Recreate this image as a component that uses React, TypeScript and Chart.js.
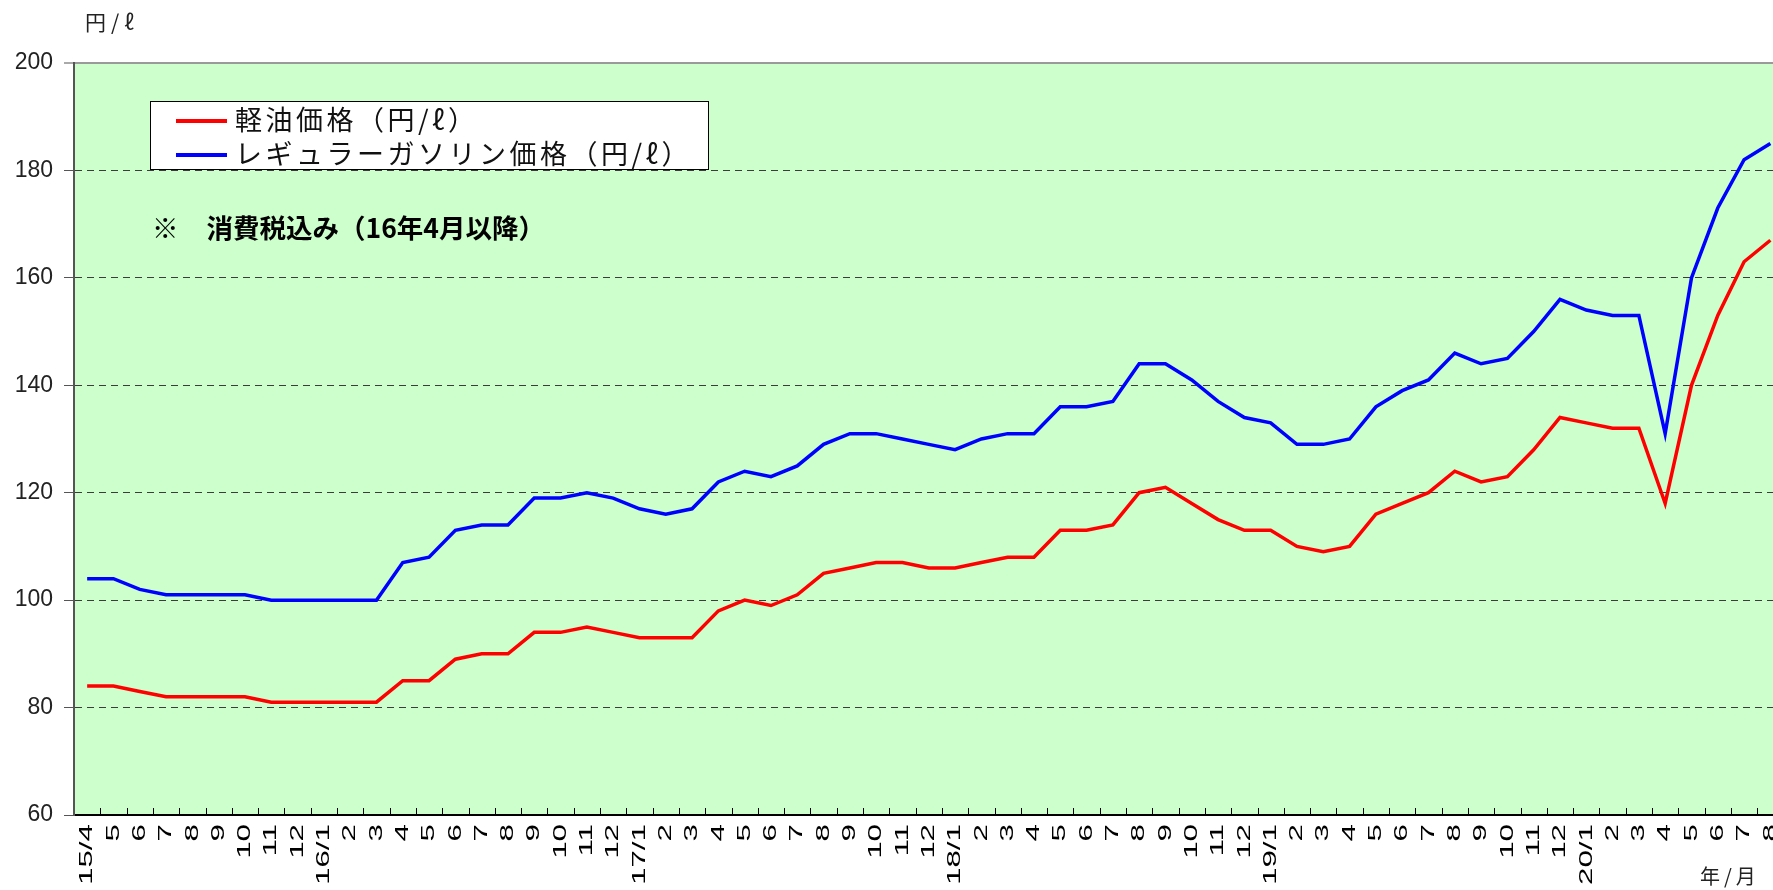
import React, { useEffect, useRef } from 'react';
import { Chart, registerables } from 'chart.js';

Chart.register(...registerables);

const xLabels: string[] = [
  '15/4', '5', '6', '7', '8', '9', '10', '11', '12',
  '16/1', '2', '3', '4', '5', '6', '7', '8', '9', '10', '11', '12',
  '17/1', '2', '3', '4', '5', '6', '7', '8', '9', '10', '11', '12',
  '18/1', '2', '3', '4', '5', '6', '7', '8', '9', '10', '11', '12',
  '19/1', '2', '3', '4', '5', '6', '7', '8', '9', '10', '11', '12',
  '20/1', '2', '3', '4', '5', '6', '7', '8',
];

const dieselPrice: number[] = [
  84, 84, 83, 82, 82, 82, 82, 81, 81,
  81, 81, 81, 85, 85, 89, 90, 90, 94, 94, 95, 94,
  93, 93, 93, 98, 100, 99, 101, 105, 106, 107, 107, 106,
  106, 107, 108, 108, 113, 113, 114, 120, 121, 118, 115, 113,
  113, 110, 109, 110, 116, 118, 120, 124, 122, 123, 128, 134,
  133, 132, 132, 118, 140, 153, 163, 167,
];

const gasolinePrice: number[] = [
  104, 104, 102, 101, 101, 101, 101, 100, 100,
  100, 100, 100, 107, 108, 113, 114, 114, 119, 119, 120, 119,
  117, 116, 117, 122, 124, 123, 125, 129, 131, 131, 130, 129,
  128, 130, 131, 131, 136, 136, 137, 144, 144, 141, 137, 134,
  133, 129, 129, 130, 136, 139, 141, 146, 144, 145, 150, 156,
  154, 153, 153, 131, 160, 173, 182, 185,
];

const yMin = 60;
const yMax = 200;
const yStep = 20;

const seriesNames = ['軽油価格（円/ℓ）', 'レギュラーガソリン価格（円/ℓ）'];
const seriesColors = ['#ff0000', '#0000ff'];
const noteMark = '※';
const noteText = '消費税込み（16年4月以降）';
const yUnit = '円/ℓ';
const xUnit = '年/月';

const plotBg = {
  id: 'plotBg',
  beforeDraw(chart: any) {
    const { ctx, chartArea } = chart;
    ctx.save();
    ctx.fillStyle = '#ccffcc';
    ctx.fillRect(chartArea.left, chartArea.top, chartArea.right - chartArea.left, chartArea.bottom - chartArea.top);
    ctx.restore();
  },
};

const xAxisDecor = {
  id: 'xAxisDecor',
  afterDraw(chart: any) {
    const { ctx, chartArea, scales } = chart;
    const xs = scales.x;
    ctx.save();
    ctx.strokeStyle = '#000';
    ctx.lineWidth = 1;
    ctx.beginPath();
    for (let i = 1; i <= xLabels.length; i++) {
      const px = Math.round(xs.getPixelForValue(i - 0.5)) + 0.5;
      if (px > chartArea.right) break;
      ctx.moveTo(px, chartArea.bottom);
      ctx.lineTo(px, chartArea.bottom - 7);
    }
    ctx.stroke();
    ctx.fillStyle = '#000';
    ctx.font = '19px "Liberation Sans", Arial, sans-serif';
    ctx.textAlign = 'right';
    ctx.textBaseline = 'middle';
    xLabels.forEach((lab, i) => {
      const px = xs.getPixelForValue(i);
      ctx.save();
      ctx.translate(px, chartArea.bottom + 9);
      ctx.rotate(-Math.PI / 2);
      ctx.scale(1.65, 1);
      ctx.fillText(lab, 0, 0);
      ctx.restore();
    });
    ctx.restore();
  },
};

export default function App() {
  const canvasRef = useRef<HTMLCanvasElement | null>(null);

  useEffect(() => {
    if (!canvasRef.current) return;
    const chart = new Chart(canvasRef.current, {
      type: 'line',
      data: {
        datasets: [
          {
            label: seriesNames[0],
            data: dieselPrice.map((v, i) => ({ x: i, y: v })),
            borderColor: seriesColors[0],
            backgroundColor: seriesColors[0],
            borderWidth: 3.5,
            pointRadius: 0,
            tension: 0,
          },
          {
            label: seriesNames[1],
            data: gasolinePrice.map((v, i) => ({ x: i, y: v })),
            borderColor: seriesColors[1],
            backgroundColor: seriesColors[1],
            borderWidth: 3.5,
            pointRadius: 0,
            tension: 0,
          },
        ],
      },
      options: {
        animation: false,
        responsive: true,
        maintainAspectRatio: false,
        layout: { padding: { top: 63, left: 0, right: 0, bottom: 0 } },
        plugins: {
          legend: { display: false },
          tooltip: { enabled: false },
        },
        scales: {
          x: {
            type: 'linear',
            min: -0.5,
            max: 64.1,
            ticks: { display: false },
            grid: { display: false },
            border: { display: true, color: '#000', width: 2 },
            afterFit: (s: any) => {
              s.height = 75;
            },
          },
          y: {
            min: yMin,
            max: yMax,
            ticks: {
              stepSize: yStep,
              padding: 11,
              color: '#222',
              font: { size: 23, family: '"Liberation Sans", Arial, sans-serif' },
            },
            grid: {
              color: (c: any) =>
                c.tick && c.tick.value === yMax ? '#9a9a9a' : c.tick && c.tick.value === yMin ? 'rgba(0,0,0,0)' : '#3c3c3c',
              lineWidth: (c: any) => (c.tick && c.tick.value === yMax ? 2 : 1),
              drawTicks: true,
              tickLength: 10,
              tickColor: '#555',
              tickWidth: 1,
            },
            border: {
              display: true,
              color: '#555',
              width: 2,
              dash: (c: any) => (c.tick && c.tick.value === yMax ? [] : [7, 5]),
            },
            afterFit: (s: any) => {
              s.width = 74;
            },
          },
        },
      },
      plugins: [plotBg, xAxisDecor],
    } as any);
    return () => chart.destroy();
  }, []);

  const cjk = '"Noto Sans CJK JP", "Noto Sans", sans-serif';

  return (
    <div style={{ position: 'fixed', left: 0, top: 0, width: 1773, height: 890, background: '#fff', overflow: 'hidden' }}>
      <canvas ref={canvasRef} />
      <div style={{ position: 'absolute', left: 85, top: 7, fontFamily: cjk, fontSize: 21, lineHeight: '28px', color: '#222', letterSpacing: 5 }}>
        {yUnit}
      </div>
      <div style={{ position: 'absolute', left: 1700, top: 862, fontFamily: cjk, fontSize: 20, lineHeight: '28px', color: '#222', letterSpacing: 4 }}>
        {xUnit}
      </div>
      <div
        style={{
          position: 'absolute',
          left: 150,
          top: 101,
          width: 559,
          height: 69,
          boxSizing: 'border-box',
          border: '1px solid #000',
          background: '#fff',
          fontFamily: cjk,
          fontSize: 27,
          color: '#111',
        }}
      >
        {seriesNames.map((name, k) => (
          <div key={name} style={{ position: 'absolute', left: 0, top: 0 + k * 34, height: 34, width: '100%' }}>
            <div style={{ position: 'absolute', left: 25, top: 17, width: 51, height: 3.5, background: seriesColors[k] }} />
            <div style={{ position: 'absolute', left: 84, top: 0, lineHeight: '34px', whiteSpace: 'nowrap', letterSpacing: 3.5 }}>{name}</div>
          </div>
        ))}
      </div>
      <div
        style={{
          position: 'absolute',
          left: 152,
          top: 209,
          fontFamily: cjk,
          fontSize: 26.5,
          fontWeight: 'bold',
          lineHeight: '36px',
          color: '#000',
          whiteSpace: 'nowrap',
        }}
      >
        <span>{noteMark}</span>
        <span style={{ marginLeft: 28 }}>{noteText}</span>
      </div>
    </div>
  );
}
